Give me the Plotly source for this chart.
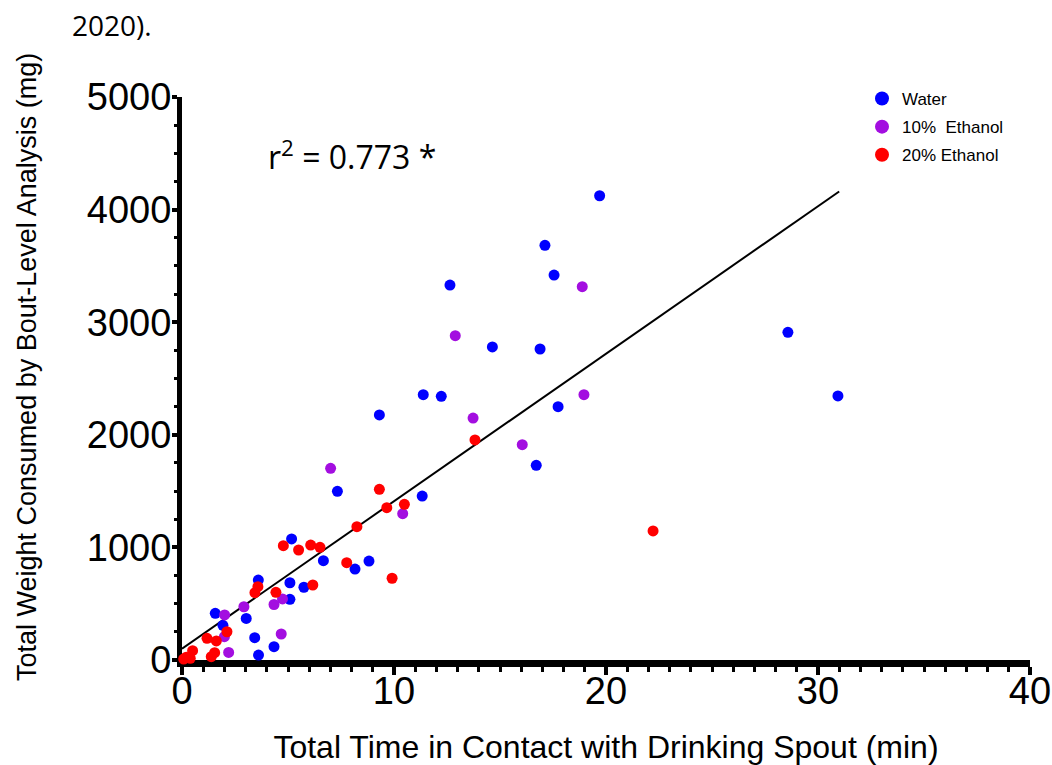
import plotly.graph_objects as go

# Contact time (min) vs. weight consumed (mg), one list pair per solution
water_time = [19.70, 17.12, 17.55, 12.64, 28.58, 14.64, 16.89, 11.38, 12.23, 30.94,
              17.74, 9.31, 16.71, 7.33, 11.33, 5.17, 6.67, 8.82, 8.16, 3.60,
              5.09, 5.75, 5.09, 1.57, 3.03, 1.93, 3.43, 4.34, 3.61]
water_weight = [4123, 3683, 3419, 3330, 2910, 2780, 2762, 2356, 2342, 2345,
                2250, 2176, 1729, 1498, 1456, 1075, 882, 879, 808, 710,
                686, 646, 539, 415, 369, 308, 198, 118, 44]

eth10_time = [18.88, 12.89, 13.73, 18.96, 16.05, 7.01, 10.41, 4.74, 4.34, 2.92,
              2.01, 2.00, 4.68, 2.20]
eth10_weight = [3315, 2880, 2149, 2356, 1912, 1702, 1299, 542, 493, 473,
                400, 207, 231, 67]

eth20_time = [13.82, 9.31, 9.66, 10.49, 8.25, 22.22, 4.78, 5.50, 6.07, 6.51,
              7.77, 9.91, 3.58, 3.44, 4.43, 6.17, 2.12, 1.18, 1.62, 0.50,
              1.54, 1.38, 0.08, 0.39, 0.20]
eth20_weight = [1954, 1516, 1353, 1383, 1184, 1146, 1015, 977, 1021, 1001,
                864, 726, 651, 598, 601, 666, 251, 193, 169, 83,
                65, 29, 9, 15, 25]

series_names = ["Water", "10%  Ethanol", "20% Ethanol"]
series_colors = ["#0000ff", "#a30ee0", "#ff0000"]

# Linear fit across all groups
fit_intercept = 100
fit_slope = 131
fit_x_range = [0, 31]
r2_label = "r<sup>2</sup> = 0.773 *"

x_ticks = [0, 10, 20, 30, 40]
y_ticks = [0, 1000, 2000, 3000, 4000, 5000]

SANS = "Liberation Sans, Arial"
fig = go.Figure()

fit_y = [fit_intercept + fit_slope * x for x in fit_x_range]
fig.add_trace(go.Scatter(x=fit_x_range, y=fit_y, mode="lines",
                         line=dict(color="black", width=2),
                         showlegend=False, hoverinfo="skip"))

for name, color, xs, ys in zip(series_names, series_colors,
                               [water_time, eth10_time, eth20_time],
                               [water_weight, eth10_weight, eth20_weight]):
    fig.add_trace(go.Scatter(x=xs, y=ys, mode="markers", name=name,
                             legendgroup=name, showlegend=False,
                             marker=dict(color=color, size=11, line=dict(width=0)),
                             cliponaxis=False))
    # larger swatch for the legend key
    fig.add_trace(go.Scatter(x=[None], y=[None], mode="markers", name=name,
                             legendgroup=name, showlegend=True,
                             marker=dict(color=color, size=14, line=dict(width=0))))

fig.add_annotation(text=r2_label, xref="paper", yref="paper",
                   x=(266 - 182) / 848, y=(660 - 155) / 563,
                   xanchor="left", yanchor="middle", showarrow=False,
                   font=dict(family="Open Sans", size=32, color="black"))

fig.add_annotation(text="2020).", xref="paper", yref="paper",
                   x=(70 - 182) / 848, y=(660 - 25) / 563,
                   xanchor="left", yanchor="middle", showarrow=False,
                   font=dict(family="Open Sans", size=28, color="black"))

# vertical axis title, placed as a rotated annotation
fig.add_annotation(text="Total Weight Consumed by Bout-Level Analysis (mg)",
                   xref="paper", yref="paper",
                   x=(27 - 182) / 848, y=(660 - 367) / 563,
                   xanchor="center", yanchor="middle", textangle=-90,
                   showarrow=False,
                   font=dict(family=SANS, size=27, color="black"))

fig.update_layout(
    width=1052, height=765,
    margin=dict(l=182, r=22, t=97, b=105),
    paper_bgcolor="white", plot_bgcolor="white",
    font=dict(family=SANS, color="black"),
    legend=dict(x=(862 - 182) / 848, y=(660 - 81) / 563,
                xanchor="left", yanchor="top",
                font=dict(size=17, family=SANS),
                tracegroupgap=3, bgcolor="rgba(0,0,0,0)"),
    xaxis=dict(range=[0, 40], tickvals=x_ticks, showgrid=False, zeroline=False,
               automargin=False, ticklabeloverflow="allow",
               showline=True, linecolor="black", linewidth=7,
               ticks="outside", ticklen=8, tickwidth=4, tickcolor="black",
               tickfont=dict(size=38, family=SANS),
               ticklabelstandoff=-17,
               minor=dict(dtick=1, ticks="outside", ticklen=5, tickwidth=3,
                          tickcolor="black", showgrid=False),
               title=dict(text="Total Time in Contact with Drinking Spout (min)",
                          font=dict(size=32, family=SANS),
                          standoff=33),
               layer="below traces"),
    yaxis=dict(range=[0, 5000], tickvals=y_ticks, showgrid=False, zeroline=False,
               automargin=False, ticklabeloverflow="allow",
               showline=True, linecolor="black", linewidth=5,
               ticks="outside", ticklen=5, tickwidth=4, tickcolor="black",
               tickfont=dict(size=38, family=SANS),
               ticklabelstandoff=-7,
               minor=dict(dtick=250, ticks="outside", ticklen=3, tickwidth=3,
                          tickcolor="black", showgrid=False),
               layer="below traces"),
)

fig.write_html("out.html")
